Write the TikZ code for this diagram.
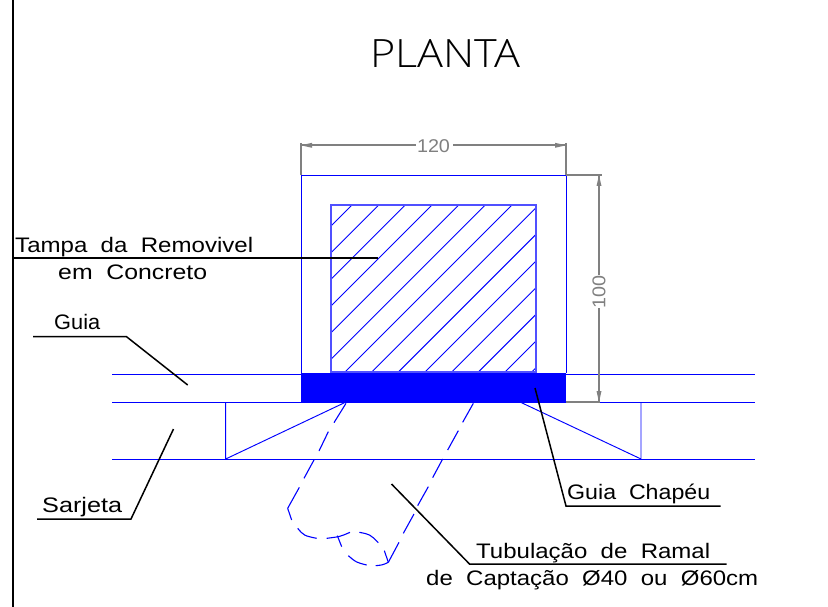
\documentclass[tikz,border=0pt]{standalone}
\usepackage{fontspec}
\usepackage{graphicx}
\setmainfont{Liberation Sans}
\newfontfamily\lightfont{Open Sans Light}
\newcommand{\fitw}[2]{\resizebox{#1pt}{\height}{#2}}
\definecolor{cadblue}{RGB}{0,0,255}
\definecolor{cadband}{RGB}{80,80,255}
\definecolor{dimgrey}{RGB}{128,128,128}
\tikzset{
  geom/.style={draw=cadblue,line width=0.95pt},
  pipe/.style={draw=cadblue,line width=1.1pt},
  leader/.style={draw=black,line width=1.5pt},
  dimline/.style={draw=dimgrey,line width=1.9pt},
  dimhead/.style={fill=dimgrey,draw=none},
  lbl/.style={anchor=base west,inner sep=0pt,font=\fontsize{21}{21}\selectfont},
  dimtxt/.style={inner sep=0pt,text=dimgrey,font=\fontsize{18.5}{18.5}\selectfont},
}
\begin{document}
\begin{tikzpicture}[x=1pt,y=-1pt]
\useasboundingbox (0,0) rectangle (828,607);
\fill[white] (0,0) rectangle (828,607);
% sheet border
\draw[black,line width=1.8pt] (13,0) -- (13,607);
% title
\node[inner sep=0pt,anchor=base] (title) at (445,68) {\fontsize{39}{39}\selectfont\lightfont\fitw{150}{PLANTA}};
% road lines
\draw[geom] (112,374) -- (755,374);
\draw[geom] (112,402) -- (755,402);
\draw[geom] (112,459) -- (755,459);
% wedges
\draw[geom] (225.7,402) -- (225.7,459) -- (346,402);
\draw[geom] (641,402) -- (641,459) -- (520,402);
% box
\draw[geom] (301.5,373) -- (301.5,175.5) -- (566,175.5) -- (566,373);
% hatch
\begin{scope}
\clip (331.5,205.5) rectangle (535.5,373);
\foreach \k in {0,...,13}{
  \pgfmathsetmacro{\c}{557+26.67*\k}
  \draw[draw=cadblue,line width=0.9pt] (\c-150,150) -- (\c-400,400);
}
\end{scope}
\draw[draw=cadband,line width=2.6pt] (331,205) rectangle (536,372);
% curb cap
\fill[cadblue] (301,373) rectangle (566,402.8);
% pipe
\begin{scope}[shift={(200,390)},x=0.33333pt,y=-0.33333pt]
\draw[pipe] (438,40) -- (402,98) (385,125) -- (357,183) (343,208) -- (312,265) (298,292) -- (263,355);
\draw[pipe] (820,40) -- (788,97) (775,122) -- (743,180) (728,207) -- (698,263) (685,290) -- (653,347) (642,372) -- (610,430) (597,457) -- (565,517);
\draw[pipe] (263,355) .. controls (268,372) .. (275,390);
\draw[pipe] (293,415) .. controls (312,437) .. (350,445);
\draw[pipe] (380,445) .. controls (420,440) .. (450,427);
\draw[pipe] (478,427) .. controls (510,433) .. (535,458);
\draw[pipe] (553,482) .. controls (560,498) .. (565,517);
\draw[pipe] (412,437) .. controls (417,454) .. (425,470);
\draw[pipe] (445,497) .. controls (468,517) .. (500,525);
\draw[pipe] (527,527) .. controls (548,525) .. (565,517);
\end{scope}
% dimension 120
\draw[dimline] (301,143) -- (301,175);
\draw[dimline] (566,143) -- (566,175);
\draw[dimline] (301,145.3) -- (416,145.3);
\draw[dimline] (453,145.3) -- (566,145.3);
\fill[dimhead] (301,145.3) -- (312,142.8) -- (312,147.8) -- cycle;
\fill[dimhead] (566,145.3) -- (555,142.8) -- (555,147.8) -- cycle;
\node[dimtxt] (dimA) at (433.5,146) {\fitw{33}{120}};
% dimension 100
\draw[dimline] (566,175.3) -- (602,175.3);
\draw[dimline] (566,402.3) -- (600,402.3);
\draw[dimline] (599,175) -- (599,275);
\draw[dimline] (599,308) -- (599,402);
\fill[dimhead] (599,175.3) -- (596.5,186) -- (601.5,186) -- cycle;
\fill[dimhead] (599,402) -- (596.5,391) -- (601.5,391) -- cycle;
\node[dimtxt,rotate=90] (dimB) at (599,291.5) {\fitw{33}{100}};
% labels
\node[lbl] (tampa) at (15,252) {\fitw{238}{Tampa\ \ da\ \ Removivel}};
\node[lbl] (conc) at (58,279) {\fitw{149}{em\ \ Concreto}};
\node[lbl] (guia) at (54,329) {\fitw{46}{Guia}};
\node[lbl] (sarj) at (42,512) {\fitw{80}{Sarjeta}};
\node[lbl] (chap) at (567,499) {\fitw{143}{Guia\ \ Chapéu}};
\node[lbl] (tubo) at (476,558) {\fitw{234}{Tubulação\ \ de\ \ Ramal}};
\node[lbl] (capt) at (426,585) {\fitw{332}{de\ \ Captação\ \ Ø40\ \ ou\ \ Ø60cm}};
% leaders
\coordinate (a1) at (13,258); \coordinate (a2) at (377.5,258);
\draw[leader] (a1) -- (a2);
\coordinate (b1) at (33,336.7); \coordinate (b2) at (126.5,336.7); \coordinate (b3) at (187.7,385);
\draw[leader] (b1) -- (b2) -- (b3);
\coordinate (c1) at (37,519); \coordinate (c2) at (131,519); \coordinate (c3) at (173.5,429);
\draw[leader] (c1) -- (c2) -- (c3);
\coordinate (d1) at (720.7,506); \coordinate (d2) at (566,506); \coordinate (d3) at (535,388);
\draw[leader] (d1) -- (d2) -- (d3);
\coordinate (e1) at (726.7,564); \coordinate (e2) at (469.5,564); \coordinate (e3) at (391.5,484);
\draw[leader] (e1) -- (e2) -- (e3);
\end{tikzpicture}
\end{document}
